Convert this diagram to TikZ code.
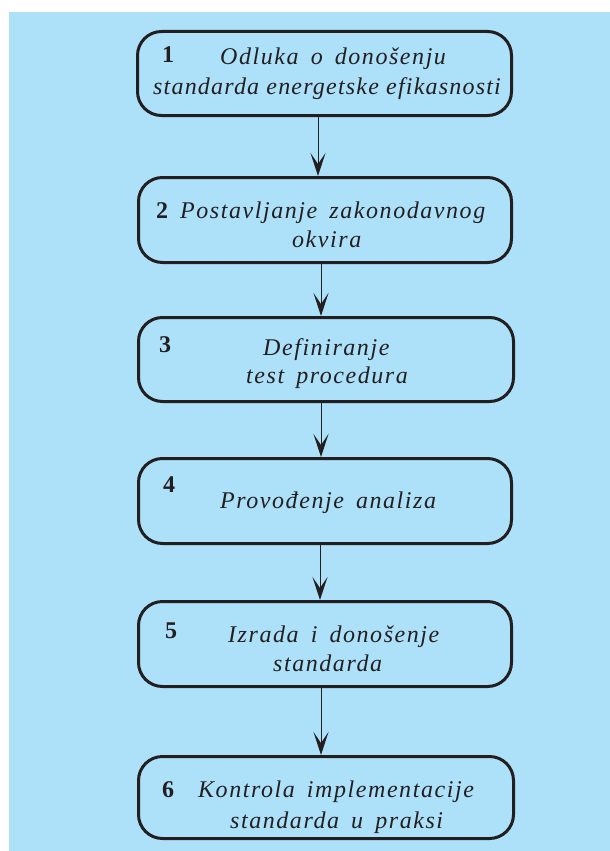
\documentclass[tikz,border=0pt]{standalone}
\usepackage{fontspec}
\setmainfont{Liberation Serif}
\usetikzlibrary{arrows.meta}
\definecolor{bg}{RGB}{173,225,249}
\definecolor{ink}{RGB}{35,31,32}
\newfontfamily\wideit[LetterSpace=6.5,WordSpace=1.6,ItalicFont={Liberation Serif Italic}]{Liberation Serif}
\newfontfamily\tightit[LetterSpace=5,WordSpace=1,ItalicFont={Liberation Serif Italic}]{Liberation Serif}
\tikzset{
  stepbox/.style={draw=ink, line width=3pt, rounded corners=24pt, inner sep=0pt},
  txt/.style={anchor=base west, inner sep=0pt, text=ink, font=\fontsize{24}{30}\wideit\itshape},
  txttight/.style={anchor=base west, inner sep=0pt, text=ink, font=\fontsize{24}{30}\tightit\itshape},
  num/.style={anchor=base west, inner sep=0pt, text=ink, font=\fontsize{24}{30}\selectfont\bfseries},
  arr/.style={draw=ink, line width=1pt, -{Stealth[length=23pt,width=15pt,inset=11pt]}}
}
\begin{document}
\begin{tikzpicture}[x=1pt,y=-1pt]
\useasboundingbox (0,0) rectangle (610,851);
\fill[white] (0,0) rectangle (610,851);
\fill[bg] (9,12) rectangle (610,851);
% boxes
\node[stepbox, minimum width=374pt, minimum height=84pt] (b1) at (324.5,73.5) {};
\node[stepbox, minimum width=373pt, minimum height=85pt] (b2) at (325,220) {};
\node[stepbox, minimum width=375pt, minimum height=84pt] (b3) at (326,359.5) {};
\node[stepbox, minimum width=373pt, minimum height=85pt] (b4) at (325,501) {};
\node[stepbox, minimum width=373pt, minimum height=85pt] (b5) at (325,644) {};
\node[stepbox, minimum width=375pt, minimum height=82pt] (b6) at (326,797.5) {};
% texts
\node[num] (n1) at (162,63) {1};
\node[txt] (t1a) at (220,65) {Odluka o donošenju};
\node[txttight] (t1b) at (153,95) {standarda energetske efikasnosti};
\node[num] (n2) at (156,218) {2};
\node[txt] (t2a) at (180,218) {Postavljanje zakonodavnog};
\node[txt] (t2b) at (292,247) {okvira};
\node[num] (n3) at (159,352) {3};
\node[txt] (t3a) at (263,355) {Definiranje};
\node[txt] (t3b) at (246,383) {test procedura};
\node[num] (n4) at (163,492) {4};
\node[txt] (t4a) at (220,508) {Provođenje analiza};
\node[num] (n5) at (165,638) {5};
\node[txt] (t5a) at (228,642) {Izrada i donošenje};
\node[txt] (t5b) at (273,671) {standarda};
\node[num] (n6) at (162,797) {6};
\node[txt] (t6a) at (198,797) {Kontrola implementacije};
\node[txt] (t6b) at (230,828) {standarda u praksi};
% arrows
\coordinate (x1) at (318,0);
\coordinate (x2) at (321,0);
\coordinate (x3) at (321,0);
\coordinate (x4) at (320,0);
\coordinate (x5) at (321,0);
\draw[arr] (b1.south -| x1) -- (b2.north -| x1);
\draw[arr] (b2.south -| x2) -- (b3.north -| x2);
\draw[arr] (b3.south -| x3) -- (b4.north -| x3);
\draw[arr] (b4.south -| x4) -- (b5.north -| x4);
\draw[arr] (b5.south -| x5) -- (b6.north -| x5);
\end{tikzpicture}
\end{document}
